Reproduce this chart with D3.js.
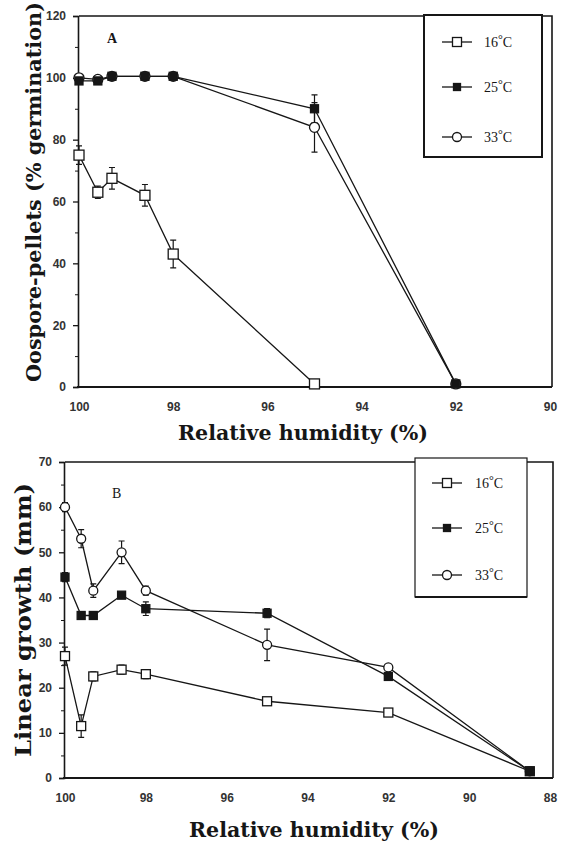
<!DOCTYPE html>
<html>
<head>
<meta charset="utf-8">
<script src="https://cdn.jsdelivr.net/npm/d3@7"></script>
<style>
  body { margin: 0; background: #fff; }
  svg { display: block; }
</style>
</head>
<body>
<svg></svg>
<script>
// panel A - oospore-pellet germination
var humidityA = [100, 99.6, 99.3, 98.6, 98, 95, 92];
var germ16 = [75, 63, 67.5, 62, 43, 1, null];
var germ16Err = [3, 2, 3.5, 3.5, 4.5, 0, null];
var germ25 = [99, 99, 100.5, 100.5, 100.5, 90, 1];
var germ25Err = [0, 0, 0, 0, 0, 4.5, 0];
var germ33 = [100, 99.5, 100.5, 100.5, 100.5, 84, 1];
var germ33Err = [0, 0, 0, 0, 0, 8, 0];
var ticksAx = [100, 98, 96, 94, 92, 90];
var ticksAy = [0, 20, 40, 60, 80, 100, 120];

// panel B - linear growth
var humidityB = [100, 99.6, 99.3, 98.6, 98, 95, 92, 88.5];
var growth16 = [27, 11.5, 22.5, 24, 23, 17, 14.5, 1.5];
var growth16Err = [2, 2.5, 1, 1, 1, 0.5, 0.5, 0];
var growth25 = [44.5, 36, 36, 40.5, 37.5, 36.5, 22.5, 1.5];
var growth25Err = [1, 0.5, 0.5, 0.5, 1.5, 1, 0.5, 0];
var growth33 = [60, 53, 41.5, 50, 41.5, 29.5, 24.5, 1.5];
var growth33Err = [1, 2, 1.5, 2.5, 1, 3.5, 0.5, 0];
var ticksBx = [100, 98, 96, 94, 92, 90, 88];
var ticksBy = [0, 10, 20, 30, 40, 50, 60, 70];

var temps = ["16", "25", "33"];
var markers = ["openSquare", "filledSquare", "openCircle"];

document.addEventListener("DOMContentLoaded", function() {

  var width = 568;
  var height = 843;
  var ink = "#161616";

  var svg = d3.select("svg")
      .attr("width", width)
      .attr("height", height)
      .style("font-family", "'Liberation Serif', serif");

  function drawMarker(g, type, x, y, size) {
    if (type === "openCircle") {
      g.append("circle")
        .attr("cx", x).attr("cy", y).attr("r", size / 2)
        .attr("fill", "#fff").attr("stroke", ink).attr("stroke-width", 1.3);
    } else {
      g.append("rect")
        .attr("x", x - size / 2).attr("y", y - size / 2)
        .attr("width", size).attr("height", size)
        .attr("fill", type === "filledSquare" ? ink : "#fff")
        .attr("stroke", ink).attr("stroke-width", 1.3);
    }
  }

  function panel(opt) {
    var g = svg.append("g");
    var x = opt.x, y = opt.y;

    // frame: top and right
    g.append("path")
      .attr("d", "M" + x.range()[0] + "," + y.range()[1] + "H" + opt.right + "V" + y.range()[0])
      .attr("fill", "none").attr("stroke", ink).attr("stroke-width", 1.6);

    var xAxis = d3.axisBottom(x).tickValues(opt.xTicks).tickSize(0).tickPadding(15)
        .tickFormat(d3.format("d"));
    var gx = g.append("g")
        .attr("transform", "translate(0," + y.range()[0] + ")")
        .call(xAxis);
    gx.select(".domain").attr("d", "M" + (x.range()[0] - 2) + ",0H" + opt.right)
        .attr("stroke", ink).attr("stroke-width", 2.2);
    gx.selectAll("text").style("font-size", "12px").style("font-weight", "bold").attr("fill", "#333");

    var left = x.range()[0] - 1;
    var yAxis = d3.axisLeft(y).tickValues(opt.yTicks).tickSize(5).tickPadding(7);
    var gy = g.append("g")
        .attr("transform", "translate(" + left + ",0)")
        .call(yAxis);
    gy.select(".domain").attr("stroke", ink).attr("stroke-width", 1.6);
    gy.selectAll(".tick line").attr("stroke", ink).attr("stroke-width", 1.3);
    gy.selectAll("text").style("font-size", "12px").style("font-weight", "bold").attr("fill", "#333");

    var minor = d3.axisLeft(y).tickValues(opt.minorTicks).tickSize(3).tickFormat("");
    var gm = g.append("g")
        .attr("transform", "translate(" + left + ",0)")
        .call(minor);
    gm.select(".domain").remove();
    gm.selectAll(".tick line").attr("stroke", ink);

    // series
    opt.series.forEach(function(s, i) {
      var pts = opt.hum.map(function(h, j) {
        return { h: h, v: s.values[j], e: s.errs[j] };
      }).filter(function(d) { return d.v !== null; });

      var line = d3.line().x(function(d) { return x(d.h); }).y(function(d) { return y(d.v); });
      g.append("path")
        .datum(pts)
        .attr("d", line)
        .attr("fill", "none").attr("stroke", ink).attr("stroke-width", 1.3);

      var eb = g.append("g");
      pts.filter(function(d) { return d.e > 0; }).forEach(function(d) {
        var cx = x(d.h);
        eb.append("path")
          .attr("d", "M" + cx + "," + y(d.v + d.e) + "V" + y(d.v - d.e) +
                "M" + (cx - 3) + "," + y(d.v + d.e) + "h6" +
                "M" + (cx - 3) + "," + y(d.v - d.e) + "h6")
          .attr("fill", "none").attr("stroke", ink).attr("stroke-width", 1.2);
      });

      s.pts = pts;
    });

    // markers on top, 16, 33, then 25
    [0, 2, 1].forEach(function(i) {
      var s = opt.series[i];
      s.pts.forEach(function(d) {
        drawMarker(g, markers[i], x(d.h), y(d.v), markers[i] === "filledSquare" ? 8 : opt.msize);
      });
    });

    // panel letter
    g.append("text")
      .attr("x", opt.letterX).attr("y", opt.letterY)
      .style("font-size", "14px").style("font-weight", opt.letterWeight)
      .attr("fill", ink)
      .text(opt.letter);

    // legend
    var lg = g.append("g").attr("transform", "translate(" + opt.legend.x + "," + opt.legend.y + ")");
    lg.append("rect")
      .attr("width", opt.legend.w).attr("height", opt.legend.h)
      .attr("fill", "#fff").attr("stroke", ink).attr("stroke-width", opt.legend.stroke);
    lg.append("line")
      .attr("x1", 0).attr("x2", opt.legend.w)
      .attr("y1", opt.legend.h).attr("y2", opt.legend.h)
      .attr("stroke", ink).attr("stroke-width", 2.2);
    temps.forEach(function(t, i) {
      var ry = opt.legend.rows[i];
      lg.append("line")
        .attr("x1", opt.legend.lx).attr("x2", opt.legend.lx + 30)
        .attr("y1", ry).attr("y2", ry)
        .attr("stroke", ink).attr("stroke-width", 1.3);
      drawMarker(lg, markers[i], opt.legend.lx + 15, ry, markers[i] === "filledSquare" ? 7 : 9);
      var tx = lg.append("text")
        .attr("x", opt.legend.tx).attr("y", ry + 5)
        .style("font-size", "14px").attr("fill", ink);
      tx.append("tspan").text(t);
      tx.append("tspan").attr("dy", -4).style("font-size", "12px").text("°");
      tx.append("tspan").attr("dy", 4).text("C");
    });

    // axis titles
    svg.append("text")
      .attr("x", opt.xTitle[0]).attr("y", opt.xTitle[1])
      .attr("text-anchor", "middle")
      .attr("textLength", 250)
      .attr("lengthAdjust", "spacingAndGlyphs")
      .style("font-family", "'DejaVu Serif', serif")
      .style("font-weight", "bold").style("font-size", "20px")
      .attr("fill", ink)
      .text("Relative humidity (%)");

    svg.append("text")
      .attr("transform", "translate(" + opt.yTitle[0] + "," + opt.yTitle[1] + ") rotate(-90)")
      .attr("text-anchor", "middle")
      .attr("textLength", opt.yTitleLen)
      .attr("lengthAdjust", "spacingAndGlyphs")
      .style("font-family", "'DejaVu Serif', serif")
      .style("font-weight", "bold").style("font-size", opt.yTitleSize + "px")
      .attr("fill", ink)
      .text(opt.yTitleText);
  }

  panel({
    x: d3.scaleLinear().domain([100, 90]).range([79, 550]),
    y: d3.scaleLinear().domain([0, 120]).range([387, 16]),
    right: 552,
    hum: humidityA,
    xTicks: ticksAx,
    yTicks: ticksAy,
    minorTicks: [10, 30, 50, 70, 90, 110],
    msize: 10,
    series: [
      { values: germ16, errs: germ16Err },
      { values: germ25, errs: germ25Err },
      { values: germ33, errs: germ33Err }
    ],
    letter: "A", letterX: 107, letterY: 43, letterWeight: "bold",
    legend: { x: 424, y: 15, w: 118, h: 142, stroke: 2, lx: 18, tx: 60, rows: [27, 72, 122] },
    xTitle: [303, 440],
    yTitle: [41, 192],
    yTitleSize: 20,
    yTitleLen: 380,
    yTitleText: "Oospore-pellets (% germination)"
  });

  panel({
    x: d3.scaleLinear().domain([100, 88]).range([65, 550]),
    y: d3.scaleLinear().domain([0, 70]).range([778, 462]),
    right: 553,
    hum: humidityB,
    xTicks: ticksBx,
    yTicks: ticksBy,
    minorTicks: [5, 15, 25, 35, 45, 55, 65],
    msize: 9,
    series: [
      { values: growth16, errs: growth16Err },
      { values: growth25, errs: growth25Err },
      { values: growth33, errs: growth33Err }
    ],
    letter: "B", letterX: 112, letterY: 498, letterWeight: "normal",
    legend: { x: 415, y: 458, w: 112, h: 139, stroke: 1.2, lx: 17, tx: 60, rows: [25, 70, 117] },
    xTitle: [314, 837],
    yTitle: [31, 620],
    yTitleSize: 22,
    yTitleLen: 274,
    yTitleText: "Linear growth (mm)"
  });
});
</script>
</body>
</html>
